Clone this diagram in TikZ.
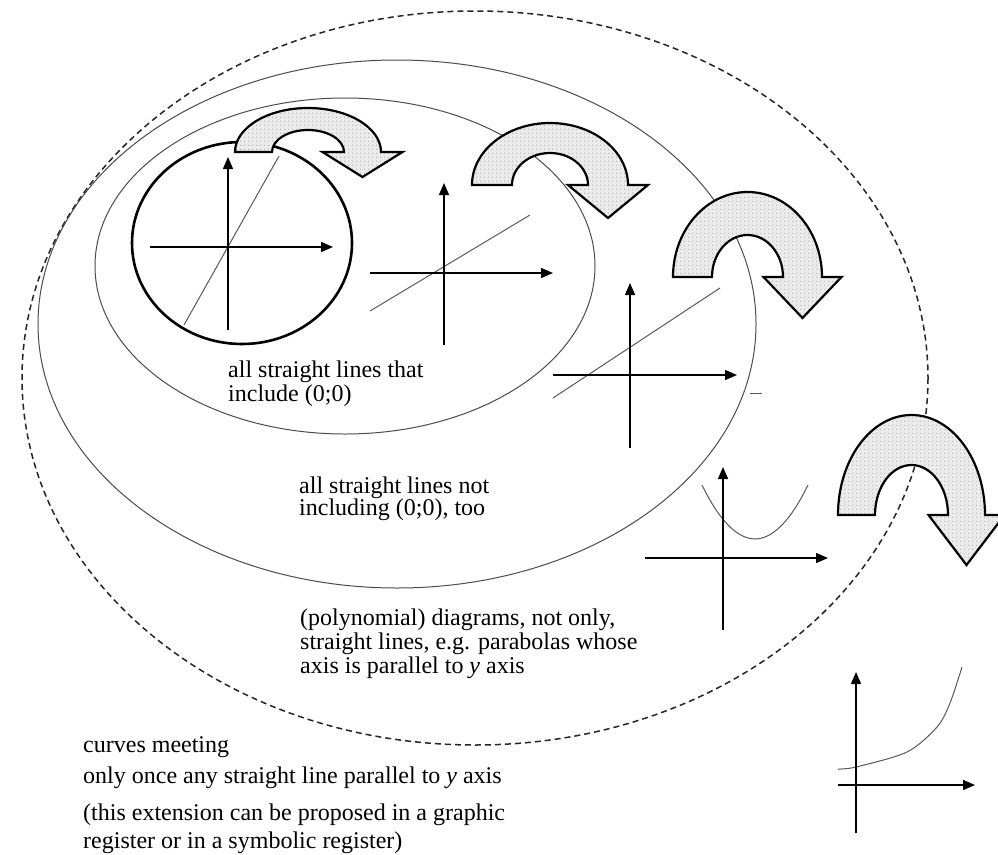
\documentclass[tikz,border=0pt]{standalone}
\usepackage{fontspec}
\setmainfont{Liberation Serif}
\usetikzlibrary{arrows.meta,patterns}
\pgfdeclarepatternformonly{mydots}{\pgfpointorigin}{\pgfpoint{4pt}{4pt}}{\pgfpoint{4pt}{4pt}}{\pgfpathcircle{\pgfpoint{1pt}{1pt}}{0.55pt}\pgfusepath{fill}}
\begin{document}
\begin{tikzpicture}[x=1pt,y=-1pt,
  ell/.style={draw=black!70, line width=1pt},
  dashell/.style={draw=black!85, line width=1.5pt, dash pattern=on 6pt off 4pt},
  bigcirc/.style={draw=black, line width=2.6pt},
  axis/.style={draw=black, line width=1.4pt, -{Triangle[length=12pt,width=10pt]}},
  graph/.style={draw=black!65, line width=1pt},
  uarrow/.style={draw=black, line width=2.2pt, line join=miter, preaction={fill=black!8}, preaction={pattern=mydots, pattern color=black!60}},
  lbl/.style={anchor=base west, inner sep=0pt, font=\fontsize{24}{24}\selectfont}]
\useasboundingbox (0,0) rectangle (998,854);
\fill[white] (0,0) rectangle (998,854);

% nested sets
\draw[dashell] (475,378) ellipse [x radius=453, y radius=367];
\draw[ell] (397,324) ellipse [x radius=359, y radius=264];
\draw[ell] (345,266) ellipse [x radius=250, y radius=168];
\draw[bigcirc] (242,243) ellipse [x radius=110, y radius=101];

% graph 1
\draw[graph] (184,325) -- (279,156);
\draw[axis] (228,330) -- (228,157);
\draw[axis] (150,247) -- (333,247);

% graph 2
\draw[graph] (370,311) -- (530,215);
\draw[axis] (444,345) -- (444,183);
\draw[axis] (370,273) -- (553,273);

% graph 3
\draw[graph] (553,398) -- (720,288);
\draw[axis] (630,448) -- (630,283);
\draw[axis] (553,375) -- (737,375);
\draw[graph] (750,393) -- (762,393);

% graph 4
\draw[graph] (702,485) parabola bend (755,539) (808,485);
\draw[axis] (723,630) -- (723,467);
\draw[axis] (645,558) -- (828,558);

% graph 5
\draw[graph] plot[smooth] coordinates {(838,769) (856,767) (907,752) (937,727) (950,703) (962,667)};
\draw[axis] (856,833) -- (856,672);
\draw[axis] (838,785) -- (975,785);

% U-turn arrows
\draw[uarrow] (235,152) arc[start angle=180, end angle=360, x radius=73, y radius=44]
  -- (402.5,152) -- (362.5,177) -- (322.5,152) -- (344,152)
  arc[start angle=0, end angle=-180, x radius=36, y radius=22] -- cycle;
\draw[uarrow] (472,185) arc[start angle=180, end angle=360, x radius=78, y radius=62]
  -- (648,185) -- (608,218) -- (568,185) -- (588,185)
  arc[start angle=0, end angle=-180, x radius=38, y radius=32] -- cycle;
\draw[uarrow] (673,277) arc[start angle=180, end angle=360, x radius=74.5, y radius=85]
  -- (841.5,277) -- (802.5,318) -- (763.5,277) -- (783,277)
  arc[start angle=0, end angle=-180, x radius=35.5, y radius=42] -- cycle;
\draw[uarrow] (838,515) arc[start angle=180, end angle=360, x radius=73.5, y radius=100]
  -- (1004.5,515) -- (966.5,565) -- (928.5,515) -- (948,515)
  arc[start angle=0, end angle=-180, x radius=36.5, y radius=50] -- cycle;

% labels
\node[lbl] (t1) at (228,377) {\vtop{\baselineskip=24pt\hbox{all straight lines that}\hbox{include (0;0)}}};
\node[lbl] (t2) at (299,493) {\vtop{\baselineskip=22.5pt\hbox{all straight lines not}\hbox{including (0;0), too}}};
\node[lbl] (t3) at (300,625) {\vtop{\baselineskip=24pt\hbox{(polynomial) diagrams, not only,}\hbox{straight lines, e.g. parabolas whose}\hbox{axis is parallel to \textit{y} axis}}};
\node[lbl] (t4) at (83,752) {\vtop{\baselineskip=31pt\hbox{curves meeting}\hbox{only once any straight line parallel to \textit{y} axis}}};
\node[lbl] (t5) at (83,820) {\vtop{\baselineskip=28pt\hbox{(this extension can be proposed in a graphic}\hbox{register or in a symbolic register)}}};
\end{tikzpicture}
\end{document}
